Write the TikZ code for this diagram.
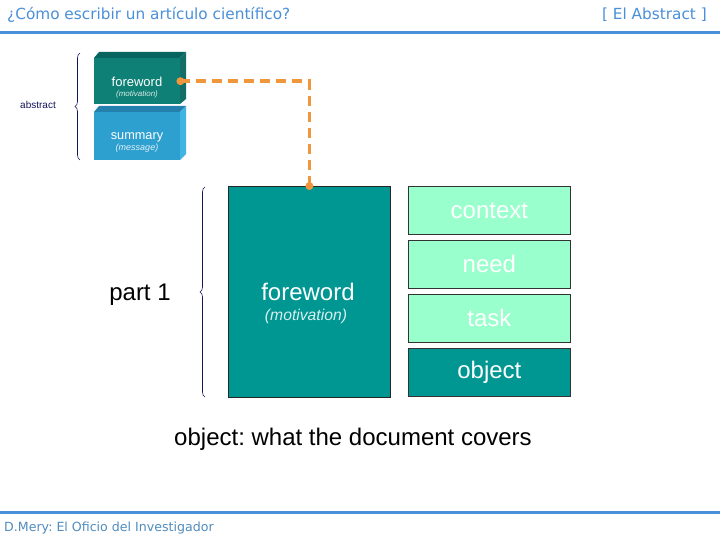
\documentclass[tikz,border=0pt]{standalone}
\usepackage{fontspec}
\setmainfont{Liberation Sans}
\newfontfamily\hdr{DejaVu Sans}
\usetikzlibrary{decorations.pathreplacing}
\frenchspacing
\definecolor{hblue}{RGB}{74,144,217}
\definecolor{fblue}{RGB}{80,140,190}
\definecolor{tealbig}{RGB}{0,150,146}
\definecolor{mint}{RGB}{153,255,204}
\definecolor{fwfront}{RGB}{14,128,118}
\definecolor{fwtop}{RGB}{8,100,94}
\definecolor{fwside}{RGB}{20,110,104}
\definecolor{smfront}{RGB}{46,160,208}
\definecolor{smtop}{RGB}{36,128,172}
\definecolor{smside}{RGB}{64,180,226}
\definecolor{navy}{RGB}{20,20,90}
\definecolor{orng}{RGB}{240,150,60}
\tikzset{
  hdrtext/.style={font=\hdr\fontsize{15.3}{17}\selectfont, text=hblue, inner sep=0pt},
  rbox/.style={draw=black!80, line width=0.8pt, fill=mint, minimum width=162pt, minimum height=48pt, inner sep=0pt, text=white, font=\fontsize{24}{28}\selectfont},
  brc/.style={draw=navy, line width=0.6pt, decorate, decoration={brace, amplitude=5pt}},
  dot/.style={circle, fill=orng, inner sep=0pt, minimum size=8pt}
}
\begin{document}
\begin{tikzpicture}[x=1pt,y=-1pt]
\useasboundingbox (0,0) rectangle (720,540);
\fill[white] (0,0) rectangle (720,540);
% header
\node[hdrtext, anchor=west] (title) at (7,15) {¿Cómo escribir un artículo científico?};
\node[hdrtext, anchor=east] (sec) at (707,15) {[ El Abstract ]};
\fill[hblue] (0,31) rectangle (720,34);
% footer
\fill[hblue] (0,511) rectangle (720,514);
\node[font=\hdr\fontsize{12.6}{14}\selectfont, text=fblue, anchor=west, inner sep=0pt] (foot) at (4,528) {D.Mery: El Oficio del Investigador};
% abstract brace
\draw[brc] (80,160) -- (80,53);
\node[font=\fontsize{10}{11}\selectfont, text=navy, inner sep=0pt] (abs) at (38,105) {abstract};
% small foreword 3D box
\fill[fwtop] (94,58) -- (99,52) -- (186,52) -- (180,58) -- cycle;
\fill[fwside] (180,58) -- (186,52) -- (186,99) -- (180,104) -- cycle;
\node[fill=fwfront, minimum width=86pt, minimum height=46pt, inner sep=0pt, anchor=north west] (fws) at (94,58) {};
\node[text=white, font=\fontsize{13}{15}\selectfont, inner sep=0pt] (fwt) at (137,82) {foreword};
\node[text=white!85!fwfront, font=\itshape\fontsize{8}{9}\selectfont, inner sep=0pt] (fwm) at (137,94) {(motivation)};
% small summary 3D box
\fill[smtop] (94,112) -- (99,106) -- (186,106) -- (180,112) -- cycle;
\fill[smside] (180,112) -- (186,106) -- (186,154) -- (180,160) -- cycle;
\node[fill=smfront, minimum width=86pt, minimum height=48pt, inner sep=0pt, anchor=north west] (sms) at (94,112) {};
\node[text=white, font=\fontsize{12.7}{14}\selectfont, inner sep=0pt] (smt) at (137,137) {summary};
\node[text=white!85!smfront, font=\itshape\fontsize{9}{10}\selectfont, inner sep=0pt] (smm) at (137,148) {(message)};
% big foreword box
\node[draw=black!85, line width=0.8pt, fill=tealbig, minimum width=162pt, minimum height=211pt, inner sep=0pt, anchor=north west] (big) at (228,186) {};
\node[text=white, font=\fontsize{24}{28}\selectfont, inner sep=0pt] (bigt) at (308,292) {foreword};
\node[text=white!85!tealbig, font=\itshape\fontsize{15.7}{18}\selectfont, inner sep=0pt] (bigm) at (306,316) {(motivation)};
% right boxes
\node[rbox, anchor=north west] (ctx) at (408,186) {context};
\node[rbox, anchor=north west] (need) at (408,240) {need};
\node[rbox, anchor=north west] (task) at (408,294) {task};
\node[rbox, anchor=north west, fill=tealbig] (obj) at (408,348) {object};
% part 1 brace
\draw[brc] (205,397) -- (205,187);
\node[font=\fontsize{24}{28}\selectfont, inner sep=0pt] (part) at (140,295) {part 1};
% connector
\draw[orng, line width=3.5pt, dash pattern=on 10pt off 6pt] (fws.east) -| (big.north);
\node[dot] (d1) at (fws.east) {};
\node[dot] (d2) at (big.north) {};
% caption
\node[font=\fontsize{24}{28}\selectfont, inner sep=0pt] (cap) at (353,439) {object: what the document covers};
\end{tikzpicture}
\end{document}
